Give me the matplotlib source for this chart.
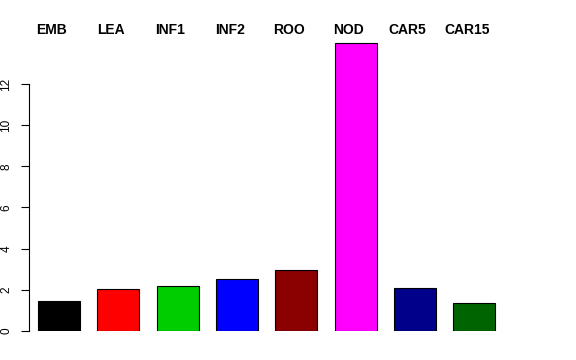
import matplotlib
matplotlib.use("Agg")
import matplotlib.pyplot as plt
import matplotlib.transforms as mtransforms

categories = ["EMB", "LEA", "INF1", "INF2", "ROO", "NOD", "CAR5", "CAR15"]
values = [1.46, 2.02, 2.20, 2.54, 2.96, 14.0, 2.07, 1.37]
colors = ["#000000", "#FF0000", "#00CD00", "#0000FF", "#8B0000", "#FF00FF", "#00008B", "#006400"]
yticks = [0, 2, 4, 6, 8, 10, 12]

plt.rcParams['font.family'] = ['Liberation Sans', 'DejaVu Sans']

fig = plt.figure(figsize=(5.76, 3.6), dpi=100)
ax = fig.add_axes([29/576, 29/360, (503-29)/576, (331-31.3)/360])

x = [0.7 + 1.2 * i for i in range(len(values))]
ax.bar(x, values, width=0.85, color=colors, edgecolor="black", linewidth=0.8)
ax.set_xlim(0.093, 9.684)
ax.set_ylim(0, 14.56)

for s in ["top", "right", "bottom"]:
    ax.spines[s].set_visible(False)
ax.spines["left"].set_bounds(0, 12)
ax.spines["left"].set_linewidth(0.8)
ax.set_xticks([])
ax.set_yticks(yticks)
ax.set_yticklabels([str(v) for v in yticks], rotation=90, va="center", fontsize=8.5)
ax.tick_params(axis="y", length=6, width=0.8, pad=6)

trans = mtransforms.blended_transform_factory(ax.transData, fig.transFigure)
for xi, lab in zip(x, categories):
    ax.text(xi - 0.15, 1 - 30.5/360, lab, transform=trans, ha="center", va="center",
            fontsize=10, fontweight="bold", clip_on=False)

fig.savefig("out.png", dpi=100)
